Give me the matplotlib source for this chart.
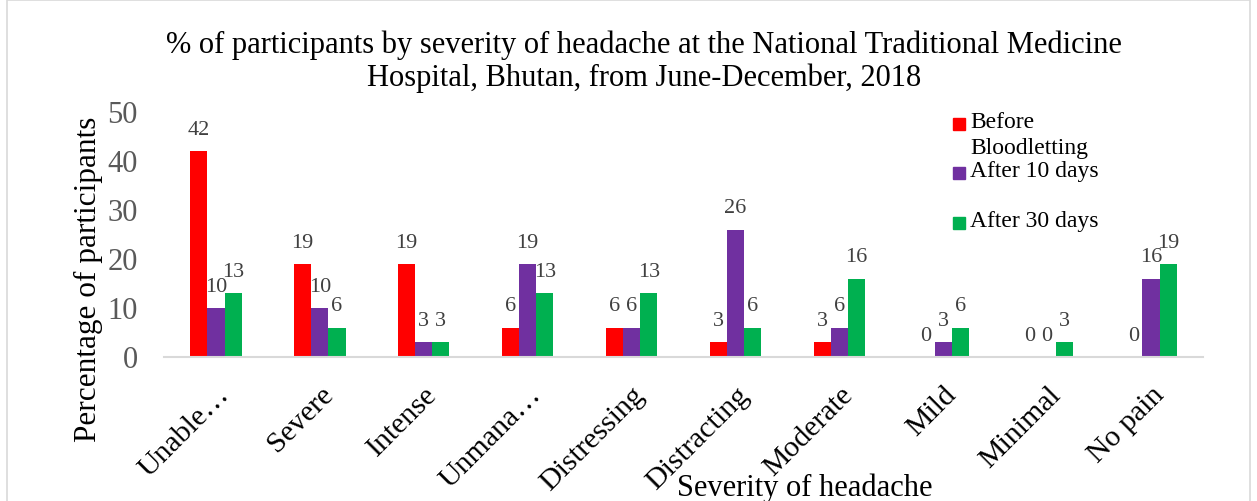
import matplotlib
matplotlib.use("Agg")
import matplotlib.pyplot as plt
import numpy as np
from matplotlib.patches import Rectangle

categories = ["Unable…", "Severe", "Intense", "Unmana…", "Distressing",
              "Distracting", "Moderate", "Mild", "Minimal", "No pain"]
before = [42, 19, 19, 6, 6, 3, 3, 0, 0, 0]
after10 = [10, 10, 3, 19, 6, 26, 6, 3, 0, 16]
after30 = [13, 6, 3, 13, 13, 6, 16, 6, 3, 19]
series_names = ["Before\nBloodletting", "After 10 days", "After 30 days"]
colors = ["#FF0000", "#7030A0", "#00B050"]

plt.rcParams['font.family'] = ['Liberation Serif', 'DejaVu Serif']

fig = plt.figure(figsize=(12.57, 5.01), dpi=100)
ax = fig.add_axes([164/1257, 1-357/501, (1203-164)/1257, (357-112)/501])

x = np.arange(len(categories))
w = 0.165
for i, (vals, c) in enumerate(zip([before, after10, after30], colors)):
    xs = x + (i-1)*w
    bars = ax.bar(xs, vals, width=w, color=c, edgecolor='none')
    for xi, v in zip(xs, vals):
        ax.annotate(str(v), (xi, v), xytext=(0, 8), textcoords='offset points',
                    ha='center', va='bottom', fontsize=16, color='#404040')

ax.set_xlim(-0.5, len(categories)-0.5)
ax.set_ylim(0, 50)
ax.set_yticks(range(0, 51, 10))
ax.tick_params(axis='y', length=0, pad=19, labelsize=22, labelcolor='#595959')
ax.tick_params(axis='x', length=0, pad=18)
ax.set_xticks(x)
ax.set_xticklabels(categories, rotation=45, ha='right', rotation_mode='anchor',
                   fontsize=21.5)
for s in ['top', 'right', 'left']:
    ax.spines[s].set_visible(False)
ax.spines['bottom'].set_color('#D9D9D9')
ax.spines['bottom'].set_linewidth(1.5)

fig.text(644/1257, 1-45/501, "% of participants by severity of headache at the National Traditional Medicine",
         ha='center', va='center', fontsize=22)
fig.text(644/1257, 1-78/501, "Hospital, Bhutan, from June-December, 2018",
         ha='center', va='center', fontsize=22)
fig.text(88/1257, 1-279/501, "Percentage of participants", rotation=90,
         ha='center', va='center', fontsize=22.5)
fig.text(805/1257, 1-488/501, "Severity of headache", ha='center', va='center', fontsize=22)

# legend
leg_y = [124, 173, 223]
for name, c, yy in zip(series_names, colors, leg_y):
    fig.patches.append(Rectangle((953/1257, 1-(yy+6)/501), 12/1257, 12/501,
                                 transform=fig.transFigure, color=c))
    fig.text(970/1257, 1-(yy-12)/501, name, ha='left', va='top', fontsize=17,
             linespacing=1.3)

fig.patches.append(Rectangle((7/1257, -0.02), 1243/1257, 1.02, transform=fig.transFigure,
                             fill=False, edgecolor='#D9D9D9', linewidth=1.2))

fig.savefig("out.png", dpi=100)
